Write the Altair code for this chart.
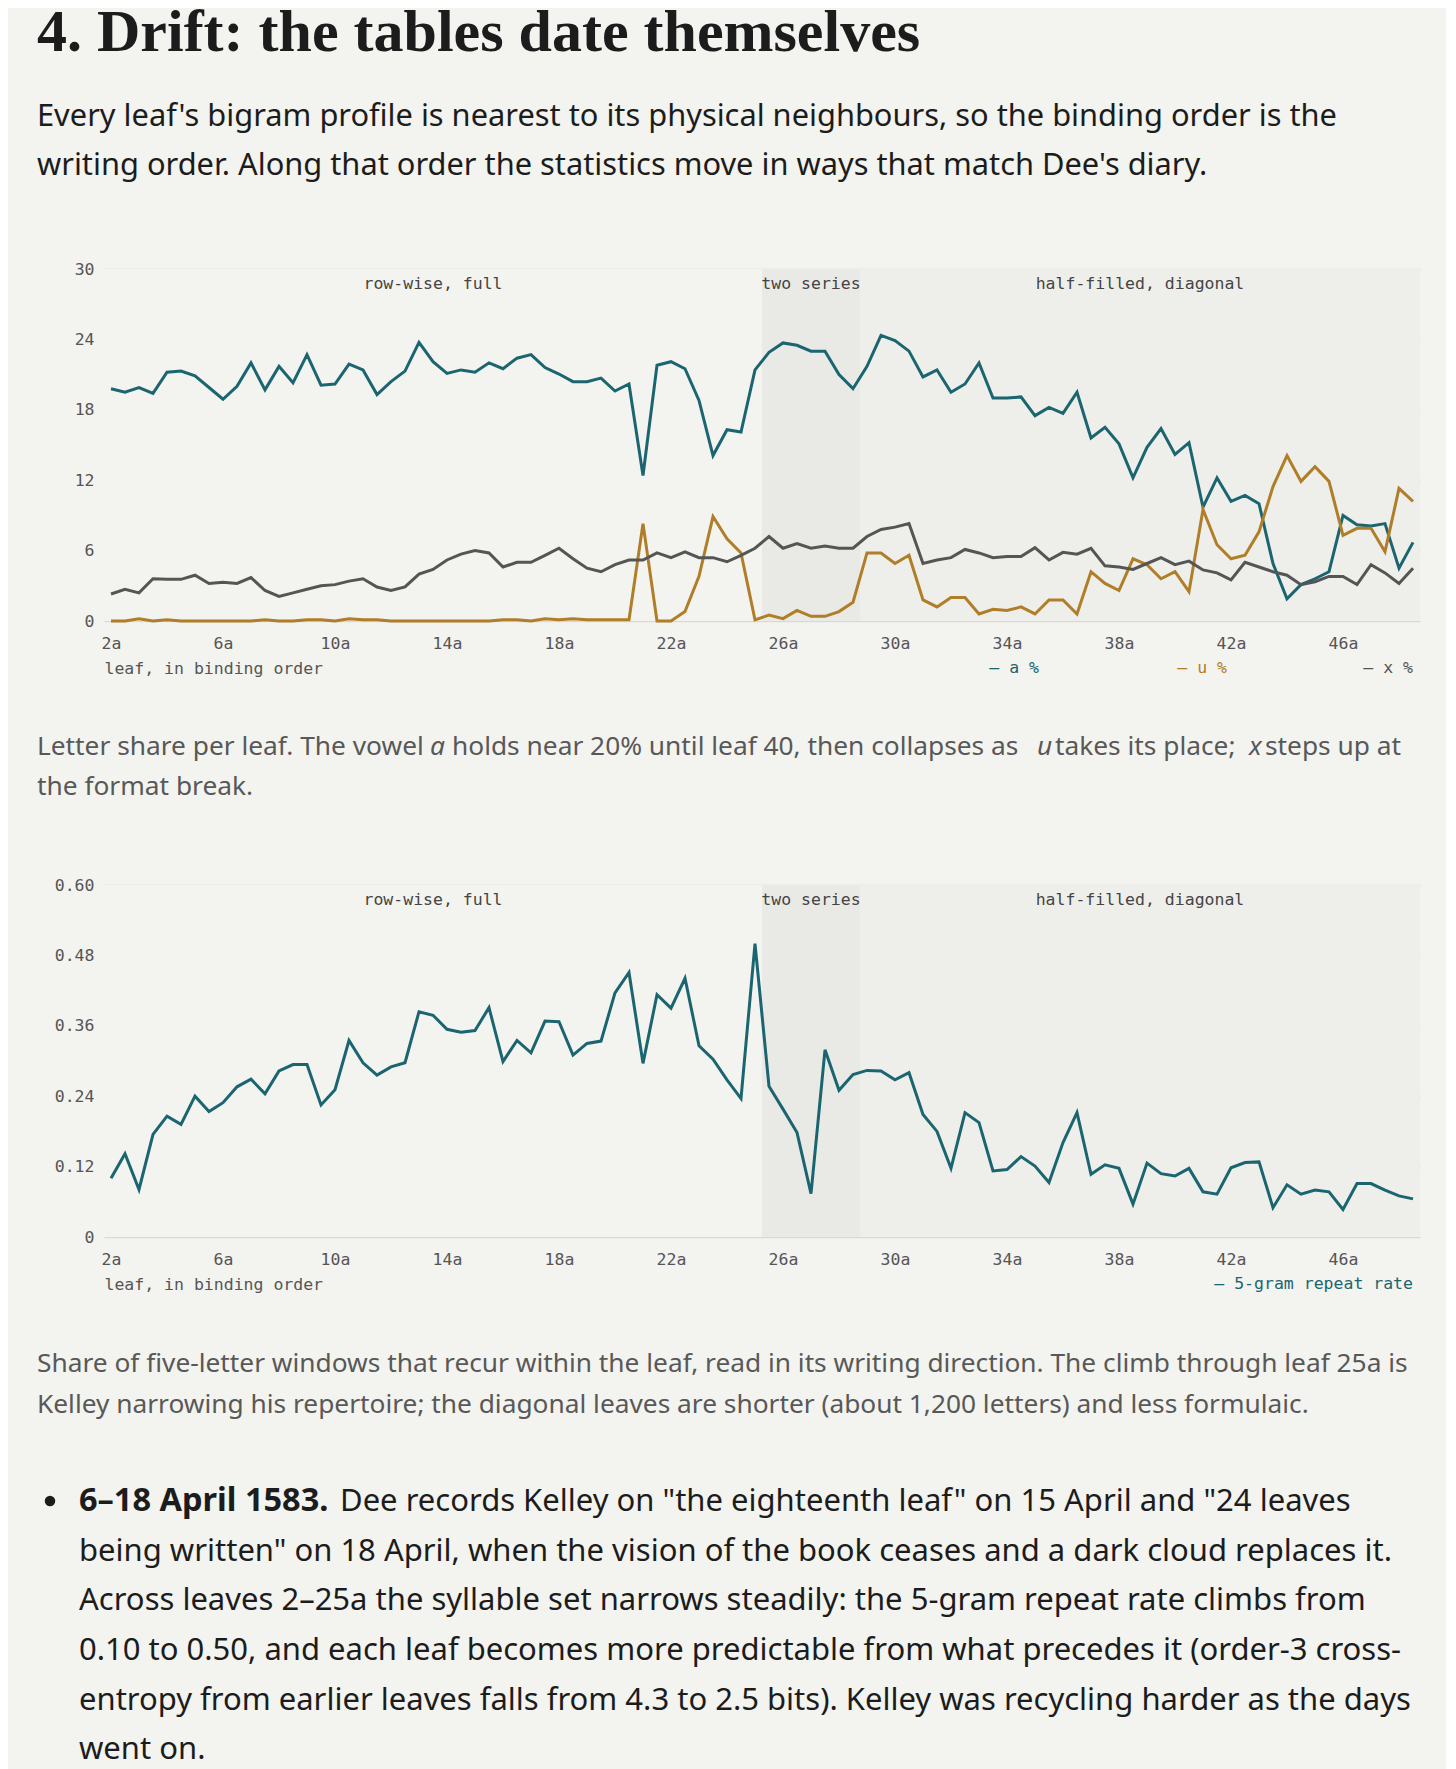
import altair as alt
import pandas as pd

# ---------------- data ----------------
LEAF_NUMBERS = list(range(2, 49))
LEAVES = [f"{n}{s}" for n in LEAF_NUMBERS for s in ("a", "b")]
TICK_LABELS = ["2a", "6a", "10a", "14a", "18a", "22a", "26a", "30a", "34a", "38a", "42a", "46a"]

A_PCT = [19.8, 19.5, 19.9, 19.4, 21.2, 21.3, 20.9, 19.9, 18.9, 20.0,
         22.0, 19.7, 21.7, 20.3, 22.7, 20.1, 20.2, 21.9, 21.4, 19.3,
         20.4, 21.3, 23.75, 22.1, 21.1, 21.4, 21.2, 22.0, 21.5, 22.4,
         22.7, 21.6, 21.05, 20.4, 20.4, 20.7, 19.6, 20.2, 12.4, 21.8,
         22.1, 21.5, 18.8, 14.1, 16.3, 16.1, 21.4, 22.9, 23.7, 23.5,
         23.0, 23.0, 21.0, 19.8, 21.7, 24.35, 23.9, 23.0, 20.8, 21.4,
         19.5, 20.2, 22.0, 19.0, 19.0, 19.1, 17.5, 18.2, 17.7, 19.5,
         15.6, 16.5, 15.1, 12.2, 14.8, 16.4, 14.2, 15.2, 9.7, 12.2,
         10.2, 10.7, 10.0, 4.9, 1.9, 3.1, 3.6, 4.2, 9.0, 8.2,
         8.1, 8.3, 4.5, 6.7]
U_PCT = [0, 0, 0.2, 0, 0.1, 0, 0, 0, 0, 0,
         0, 0.1, 0, 0, 0.1, 0.1, 0, 0.2, 0.1, 0.1,
         0, 0, 0, 0, 0, 0, 0, 0, 0.1, 0.1,
         0, 0.2, 0.1, 0.2, 0.1, 0.1, 0.1, 0.1, 8.3, 0,
         0, 0.8, 3.8, 8.9, 7.0, 5.8, 0.1, 0.5, 0.2, 0.9,
         0.4, 0.4, 0.8, 1.6, 5.8, 5.8, 4.9, 5.6, 1.8, 1.2,
         2.0, 2.0, 0.6, 1.0, 0.9, 1.2, 0.6, 1.8, 1.8, 0.6,
         4.2, 3.2, 2.6, 5.3, 4.8, 3.6, 4.2, 2.5, 9.5, 6.5,
         5.3, 5.6, 7.6, 11.45, 14.1, 11.9, 13.15, 11.9, 7.3, 7.9,
         7.9, 5.9, 11.3, 10.2]
X_PCT = [2.3, 2.7, 2.4, 3.6, 3.55, 3.55, 3.9, 3.2, 3.3, 3.2,
         3.7, 2.6, 2.1, 2.4, 2.7, 3.0, 3.1, 3.4, 3.6, 2.9,
         2.6, 2.9, 4.0, 4.4, 5.2, 5.7, 6.0, 5.8, 4.6, 5.0,
         5.0, 5.6, 6.2, 5.3, 4.5, 4.2, 4.8, 5.2, 5.2, 5.8,
         5.4, 5.9, 5.4, 5.4, 5.05, 5.6, 6.2, 7.2, 6.2, 6.6,
         6.2, 6.4, 6.2, 6.2, 7.2, 7.8, 8.0, 8.3, 4.9, 5.2,
         5.4, 6.1, 5.8, 5.4, 5.5, 5.5, 6.25, 5.2, 5.85, 5.7,
         6.2, 4.7, 4.6, 4.4, 4.9, 5.4, 4.8, 5.1, 4.35, 4.1,
         3.5, 5.0, 4.6, 4.2, 3.9, 3.1, 3.35, 3.8, 3.8, 3.1,
         4.8, 4.1, 3.2, 4.5]
REPEAT = [0.100, 0.142, 0.081, 0.175, 0.206, 0.192, 0.240, 0.214, 0.229, 0.256,
          0.269, 0.244, 0.283, 0.294, 0.294, 0.225, 0.251, 0.335, 0.297, 0.276,
          0.290, 0.297, 0.384, 0.378, 0.354, 0.349, 0.352, 0.391, 0.299, 0.335,
          0.314, 0.368, 0.367, 0.310, 0.330, 0.334, 0.416, 0.451, 0.296, 0.413,
          0.390, 0.441, 0.326, 0.303, 0.268, 0.236, 0.500, 0.257, 0.218, 0.178,
          0.074, 0.319, 0.250, 0.277, 0.284, 0.283, 0.268, 0.280, 0.209, 0.180,
          0.117, 0.212, 0.195, 0.1125, 0.115, 0.137, 0.121, 0.093, 0.161, 0.212,
          0.107, 0.123, 0.117, 0.056, 0.126, 0.108, 0.104, 0.117, 0.077, 0.073,
          0.118, 0.127, 0.128, 0.050, 0.089, 0.073, 0.080, 0.077, 0.047, 0.091,
          0.091, 0.080, 0.070, 0.065]

SERIES = ["a %", "u %", "x %"]
REPEAT_SERIES = "5-gram repeat rate"
BAND_NAMES = ["row-wise, full", "two series", "half-filled, diagonal"]
BAND_FIRST = ["2a", "25b", "29a"]
BAND_LAST = ["25a", "28b", "48b"]
Y1_TICKS = [0, 6, 12, 18, 24, 30]
Y2_TICKS = [0, 0.12, 0.24, 0.36, 0.48, 0.60]

HEADING = "4. Drift: the tables date themselves"
INTRO = ["Every leaf's bigram profile is nearest to its physical neighbours, so the binding order is the",
         "writing order. Along that order the statistics move in ways that match Dee's diary."]
CAP1_SEGMENTS = [("Letter share per leaf. The vowel ", "normal"), ("a", "italic"),
                 ("holds near 20% until leaf 40, then collapses as", "normal"), ("u", "italic"),
                 ("takes its place;", "normal"), ("x", "italic"), ("steps up at", "normal")]
CAP1_LINE2 = "the format break."
CAP2 = ["Share of five-letter windows that recur within the leaf, read in its writing direction. The climb through leaf 25a is",
        "Kelley narrowing his repertoire; the diagonal leaves are shorter (about 1,200 letters) and less formulaic."]
BULLET_BOLD = "6\u201318 April 1583."
BULLET_FIRST = "Dee records Kelley on \"the eighteenth leaf\" on 15 April and \"24 leaves"
BULLET_REST = ["being written\" on 18 April, when the vision of the book ceases and a dark cloud replaces it.",
               "Across leaves 2\u201325a the syllable set narrows steadily: the 5-gram repeat rate climbs from",
               "0.10 to 0.50, and each leaf becomes more predictable from what precedes it (order-3 cross-",
               "entropy from earlier leaves falls from 4.3 to 2.5 bits). Kelley was recycling harder as the days",
               "went on."]

# ---------------- style ----------------
BG = "#f3f3ef"
TEAL = "#1b6571"
GOLD = "#b07e28"
GREY = "#555555"
INK = "#1c1c1c"
CAPTION = "#585858"
MONO = "DejaVu Sans Mono"
SANS = "Noto Sans"
SERIF = "Liberation Serif"
W, H = 1316, 352
BODY = 30.8
CAPS = 26.3
BUL = 31.0
LW = 3

letters = pd.DataFrame({
    "i": list(range(len(LEAVES))) * 3,
    "leaf": LEAVES * 3,
    "series": [s for s in SERIES for _ in LEAVES],
    "value": A_PCT + U_PCT + X_PCT,
})
repeat = pd.DataFrame({"i": list(range(len(LEAVES))), "leaf": LEAVES,
                       "series": REPEAT_SERIES, "value": REPEAT})
bands = pd.DataFrame({"name": BAND_NAMES,
                      "x0": [LEAVES.index(f) - 0.5 for f in BAND_FIRST],
                      "x1": [LEAVES.index(l) + 0.5 for l in BAND_LAST]})
bands["mid"] = (bands["x0"] + bands["x1"]) / 2
one = pd.DataFrame({"k": [0]})

label_js = "[" + ",".join("'" + l + "'" for l in LEAVES) + "][datum.value]"
x_enc = alt.X("i:Q",
              scale=alt.Scale(domain=[-0.5, len(LEAVES) - 0.5], nice=False, zero=False),
              axis=alt.Axis(values=[LEAVES.index(t) for t in TICK_LABELS], labelExpr=label_js,
                            title="leaf, in binding order", grid=False, labelPadding=14,
                            titleX=0, titleY=52, titleAnchor="start", titleAlign="left",
                            titleBaseline="alphabetic", titleFont=MONO, titleFontSize=16.5,
                            titleFontWeight="normal", titleColor=GREY))


def band_layers():
    rect = alt.Chart(bands).mark_rect().encode(
        x="x0:Q", x2="x1:Q",
        fill=alt.Fill("name:N", scale=alt.Scale(domain=BAND_NAMES,
                                                range=[BG, "#e9eae5", "#eeefea"]), legend=None))
    lab = alt.Chart(bands).mark_text(font=MONO, fontSize=16.5, color="#444444",
                                     baseline="alphabetic", align="center").encode(
        x="mid:Q", y=alt.value(20), text="name:N")
    return rect, lab


def text_block(lines, x, y, size, color=INK, font=SANS, weight="normal", style="normal", lh=50):
    return alt.Chart(one).mark_text(text=lines, font=font, fontSize=size, color=color,
                                    fontWeight=weight, fontStyle=style, align="left",
                                    baseline="alphabetic", lineHeight=lh).encode(
        x=alt.value(x), y=alt.value(y))


# ---------------- chart 1 ----------------
rect1, lab1 = band_layers()
lines1 = alt.Chart(letters).mark_line(strokeWidth=LW).encode(
    x=x_enc,
    y=alt.Y("value:Q", scale=alt.Scale(domain=[0, 30], nice=False),
            axis=alt.Axis(values=Y1_TICKS, title=None, labelPadding=10)),
    color=alt.Color("series:N", scale=alt.Scale(domain=SERIES, range=[TEAL, GOLD, GREY]), legend=None),
    detail="series:N")

legend_x = [935, 1123, 1309]
leg1 = []
for s, lx in zip(SERIES, legend_x):
    leg1.append(alt.Chart(pd.DataFrame({"series": SERIES})).transform_filter(
        alt.datum.series == s).transform_calculate(lbl="'\u2013 ' + datum.series").mark_text(
        font=MONO, fontSize=16.5, align="right", baseline="alphabetic").encode(
        x=alt.value(lx), y=alt.value(404), text="lbl:N",
        color=alt.Color("series:N", scale=alt.Scale(domain=SERIES, range=[TEAL, GOLD, GREY]), legend=None)))

head = text_block(HEADING, -67, -218, 60, font=SERIF, weight="bold")
intro = text_block(INTRO, -67, -143, BODY, lh=49)

cap1_x = [-67, 326, 348, 933, 951, 1145, 1161]
cap1 = [text_block(t, cx, 486, CAPS, color=CAPTION, style=st)
        for (t, st), cx in zip(CAP1_SEGMENTS, cap1_x)]
cap1.append(text_block(CAP1_LINE2, -67, 526, CAPS, color=CAPTION))

chart1 = alt.layer(rect1, lab1, lines1, *leg1, head, intro, *cap1).properties(width=W, height=H)

# ---------------- chart 2 ----------------
rect2, lab2 = band_layers()
line2 = alt.Chart(repeat).mark_line(strokeWidth=LW).encode(
    x=x_enc,
    y=alt.Y("value:Q", scale=alt.Scale(domain=[0, 0.6], nice=False),
            axis=alt.Axis(values=Y2_TICKS, title=None, labelPadding=10,
                          labelExpr="datum.value == 0 ? '0' : format(datum.value, '.2f')")),
    color=alt.Color("series:N", scale=alt.Scale(domain=[REPEAT_SERIES], range=[TEAL]), legend=None))
leg2 = alt.Chart(repeat.head(1)).transform_calculate(lbl="'\u2013 ' + datum.series").mark_text(
    font=MONO, fontSize=16.5, align="right", baseline="alphabetic").encode(
    x=alt.value(1309), y=alt.value(404), text="lbl:N",
    color=alt.Color("series:N", scale=alt.Scale(domain=[REPEAT_SERIES], range=[TEAL]), legend=None))

cap2 = text_block(CAP2, -67, 487, CAPS, color=CAPTION, lh=40.7)
dot = alt.Chart(one).mark_circle(size=110, color=INK, opacity=1).encode(
    x=alt.value(-54), y=alt.value(616))
bold = text_block(BULLET_BOLD, -25, 625.5, 32.5, weight="bold")
first = text_block(BULLET_FIRST, 236, 625.5, BUL)
rest = text_block(BULLET_REST, -25, 675.5, BUL, lh=49.7)

chart2 = alt.layer(rect2, lab2, line2, leg2, cap2, dot, bold, first, rest).properties(width=W, height=H)

chart = alt.vconcat(chart1, chart2, spacing=76).properties(
    background=BG, padding={"left": 29, "top": -5, "right": 26, "bottom": 24}
).configure_view(stroke=None).configure_axis(
    domain=False, ticks=False, gridColor="#dadad5", gridWidth=1.5,
    labelFont=MONO, labelFontSize=16.5, labelColor=GREY
)

chart.save("out.html", embed_options={"renderer": "svg", "actions": False})
